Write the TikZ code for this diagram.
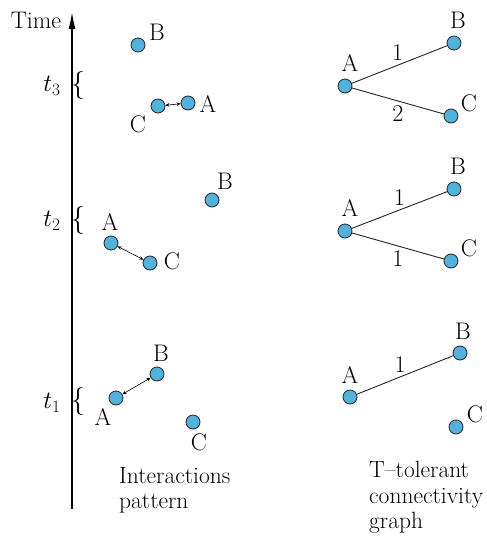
\documentclass[tikz,border=0pt]{standalone}
\usetikzlibrary{arrows.meta}
\definecolor{nodeblue}{RGB}{82,178,220}
\definecolor{edgegray}{RGB}{35,35,35}
\tikzset{
  dot/.style={circle,draw=edgegray,line width=0.8pt,fill=nodeblue,minimum size=14pt,inner sep=0pt},
  lbl/.style={font=\fontsize{24}{28}\selectfont,inner sep=0pt},
  mlbl/.style={font=\fontsize{23}{27}\selectfont,inner sep=0pt},
  txt/.style={font=\fontsize{23.5}{27}\selectfont,inner sep=0pt,anchor=base west},
  inter/.style={line width=0.6pt,{Stealth[length=4pt,width=3.5pt]}-{Stealth[length=4pt,width=3.5pt]}},
  gedge/.style={line width=0.9pt,draw=edgegray},
  axis/.style={line width=1.3pt,-{Latex[length=17pt,width=7pt]}},
  brace/.style={font=\fontsize{28}{32}\selectfont,inner sep=0pt}
}
\begin{document}
\begin{tikzpicture}[x=1pt,y=-1pt]
\useasboundingbox (0,0) rectangle (487,539);
% time axis
\coordinate (ax0) at (72,509);
\coordinate (ax1) at (72,12);
\draw[axis] (ax0) -- (ax1);
\node[lbl] (time) at (36,20) {Time};
% time markers
\node[mlbl] (t3) at (52,86) {$t_3$};
\node[brace] (b3) at (78,85) {\{};
\node[mlbl] (t2) at (52,221) {$t_2$};
\node[brace] (b2) at (78,220) {\{};
\node[mlbl] (t1) at (52,403) {$t_1$};
\node[brace] (b1) at (78,401) {\{};
% t3 interactions
\node[dot] (p3B) at (138,45) {};
\node[lbl] (p3Bl) at (157,32) {B};
\node[dot] (p3C) at (158,106) {};
\node[lbl] (p3Cl) at (138,124) {C};
\node[dot] (p3A) at (188,103) {};
\node[lbl] (p3Al) at (208,104) {A};
\draw[inter] (p3C) -- (p3A);
% t2 interactions
\node[dot] (p2B) at (212,200) {};
\node[lbl] (p2Bl) at (225,181) {B};
\node[dot] (p2A) at (111,243) {};
\node[lbl] (p2Al) at (110,222) {A};
\node[dot] (p2C) at (150,263) {};
\node[lbl] (p2Cl) at (172,261) {C};
\draw[inter] (p2A) -- (p2C);
% t1 interactions
\node[dot] (p1B) at (157,374) {};
\node[lbl] (p1Bl) at (161,353) {B};
\node[dot] (p1A) at (116,398) {};
\node[lbl] (p1Al) at (103,417) {A};
\node[dot] (p1C) at (193,422) {};
\node[lbl] (p1Cl) at (199,442) {C};
\draw[inter] (p1A) -- (p1B);
% caption left
\node[txt] (capL1) at (119,483) {Interactions};
\node[txt] (capL2) at (119,508) {pattern};
% graph t3
\node[dot] (g3A) at (345,86) {};
\node[lbl] (g3Al) at (350,63) {A};
\node[dot] (g3B) at (454,43) {};
\node[lbl] (g3Bl) at (458,20) {B};
\node[dot] (g3C) at (451,116) {};
\node[lbl] (g3Cl) at (469,103) {C};
\draw[gedge] (g3A) -- node[lbl,pos=0.48,above=4pt] {1} (g3B);
\draw[gedge] (g3A) -- node[lbl,pos=0.5,below=4pt] {2} (g3C);
% graph t2
\node[dot] (g2A) at (345,231) {};
\node[lbl] (g2Al) at (350,208) {A};
\node[dot] (g2B) at (454,189) {};
\node[lbl] (g2Bl) at (458,166) {B};
\node[dot] (g2C) at (451,261) {};
\node[lbl] (g2Cl) at (469,248) {C};
\draw[gedge] (g2A) -- node[lbl,pos=0.5,above=4pt] {1} (g2B);
\draw[gedge] (g2A) -- node[lbl,pos=0.5,below=4pt] {1} (g2C);
% graph t1
\node[dot] (g1A) at (350,397) {};
\node[lbl] (g1Al) at (350,375) {A};
\node[dot] (g1B) at (460,353) {};
\node[lbl] (g1Bl) at (463,331) {B};
\node[dot] (g1C) at (456,427) {};
\node[lbl] (g1Cl) at (475,414) {C};
\draw[gedge] (g1A) -- node[lbl,pos=0.45,above=4pt] {1} (g1B);
% caption right
\node[txt] (capR1) at (369,477) {T--tolerant};
\node[txt] (capR2) at (369,503) {connectivity};
\node[txt] (capR3) at (369,528) {graph};
\end{tikzpicture}
\end{document}
